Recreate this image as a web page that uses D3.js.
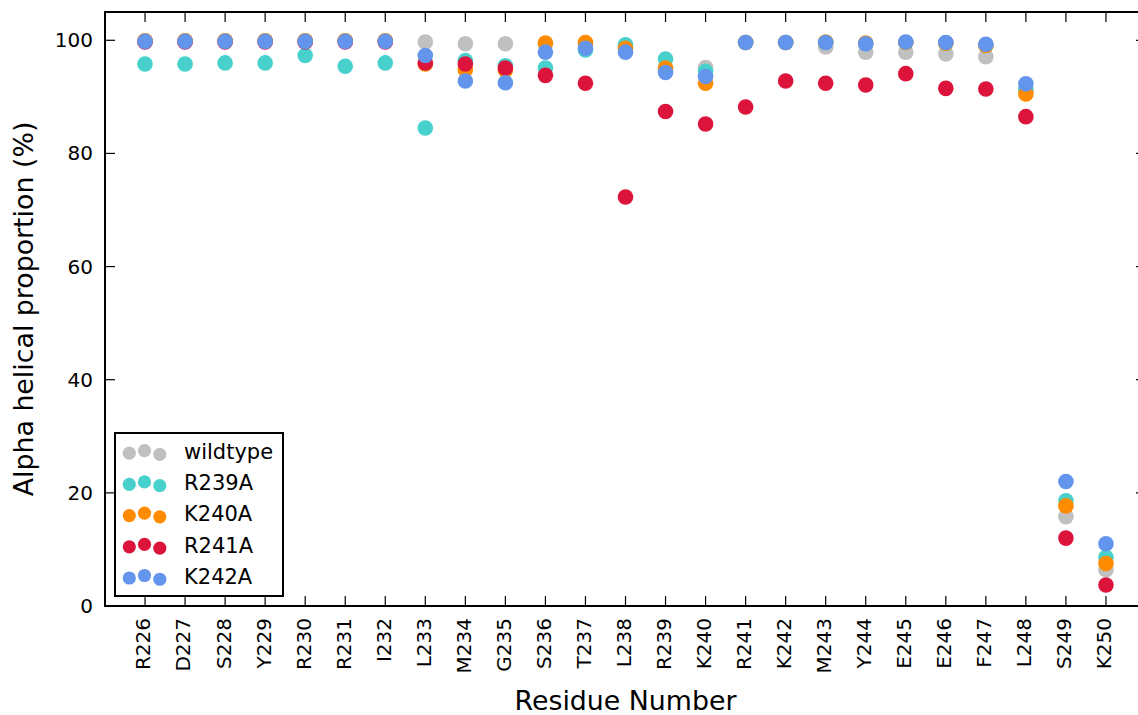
<!DOCTYPE html>
<html>
<head>
<meta charset="utf-8">
<script src="https://cdn.jsdelivr.net/npm/d3@7"></script>
<style>
  html, body { margin: 0; padding: 0; background: #fff; }
  svg { display: block; font-family: "DejaVu Sans", sans-serif; }
</style>
</head>
<body>
<svg id="chart" width="1138" height="715"></svg>
<script>
// Residues along the helix
const residues = ["R226","D227","S228","Y229","R230","R231","I232","L233","M234","G235",
  "S236","T237","L238","R239","K240","R241","K242","M243","Y244","E245",
  "E246","F247","L248","S249","K250"];

// Alpha helical proportion (%) per residue for each construct
const wildtype = [99.9,99.9,99.9,99.9,99.9,99.9,99.9,99.7,99.4,99.4,99.4,99.3,99.0,95.0,95.2,99.6,99.6,98.8,97.9,97.9,97.6,97.1,91.0,15.8,6.4];
const r239a    = [95.8,95.8,96.0,96.0,97.3,95.4,96.0,84.5,96.4,95.5,95.1,98.3,99.2,96.7,94.5,99.6,99.6,99.6,99.4,99.6,99.5,99.1,91.3,18.6,8.6];
const k240a    = [99.9,99.9,99.9,99.9,99.9,99.9,99.9,95.8,94.8,94.7,99.5,99.6,98.6,95.1,92.4,99.6,99.6,99.7,99.5,99.6,99.5,99.1,90.5,17.7,7.5];
const r241a    = [99.7,99.7,99.7,99.7,99.7,99.7,99.7,96.0,95.8,95.1,93.8,92.4,72.3,87.4,85.2,88.2,92.8,92.4,92.1,94.1,91.5,91.4,86.5,12.0,3.7];
const k242a    = [99.8,99.8,99.8,99.8,99.8,99.8,99.8,97.3,92.8,92.5,97.9,98.6,97.9,94.3,93.6,99.6,99.6,99.6,99.4,99.7,99.6,99.3,92.3,22.0,11.0];

const seriesNames  = ["wildtype","R239A","K240A","R241A","K242A"];
const seriesValues = [wildtype, r239a, k240a, r241a, k242a];
const seriesColors = ["#c0c0c0","#48d1cc","#ff8c00","#dc143c","#6495ed"];

const yTicks = [0,20,40,60,80,100];
const legendYOffsets = [0.375, 0.5, 0.3125];

const svg = d3.select("#chart");
const W = 1138, H = 715;
const plot = { left: 105, right: 1146, top: 12, bottom: 606 };

const x = d3.scaleLinear().domain([-1, 25]).range([plot.left, plot.right]);
const y = d3.scaleLinear().domain([0, 105]).range([plot.bottom, plot.top]);

svg.append("rect").attr("width", W).attr("height", H).attr("fill", "#fff");

// Scatter points, one layer per construct (later series drawn on top)
seriesValues.forEach((vals, si) => {
  svg.append("g")
    .selectAll("circle")
    .data(vals)
    .join("circle")
    .attr("cx", (d, i) => x(i))
    .attr("cy", d => y(d))
    .attr("r", 7.8)
    .attr("fill", seriesColors[si]);
});

// Ticks pointing inward on all four sides
const tickLen = 10;
const ticks = svg.append("g").attr("stroke", "#000").attr("stroke-width", 1.2);
residues.forEach((r, i) => {
  ticks.append("line").attr("x1", x(i)).attr("x2", x(i)).attr("y1", plot.bottom).attr("y2", plot.bottom - tickLen);
  ticks.append("line").attr("x1", x(i)).attr("x2", x(i)).attr("y1", plot.top).attr("y2", plot.top + tickLen);
});
yTicks.forEach(t => {
  ticks.append("line").attr("x1", plot.left).attr("x2", plot.left + tickLen).attr("y1", y(t)).attr("y2", y(t));
  ticks.append("line").attr("x1", plot.right).attr("x2", plot.right - tickLen).attr("y1", y(t)).attr("y2", y(t));
});

// Frame
svg.append("rect")
  .attr("x", plot.left).attr("y", plot.top)
  .attr("width", plot.right - plot.left).attr("height", plot.bottom - plot.top)
  .attr("fill", "none").attr("stroke", "#000").attr("stroke-width", 2);

// Y tick labels
svg.append("g").selectAll("text").data(yTicks).join("text")
  .attr("x", 93).attr("y", d => y(d))
  .attr("text-anchor", "end").attr("dominant-baseline", "central")
  .attr("font-size", 20).attr("fill", "#000")
  .text(d => d);

// X tick labels, rotated
svg.append("g").selectAll("text").data(residues).join("text")
  .attr("transform", (d, i) => `translate(${x(i)},618) rotate(-90)`)
  .attr("text-anchor", "end").attr("dy", "0.27em")
  .attr("font-size", 20).attr("fill", "#000")
  .text(d => d);

// Axis titles
svg.append("text")
  .attr("x", (plot.left + plot.right) / 2).attr("y", 710)
  .attr("text-anchor", "middle").attr("font-size", 26.8).attr("fill", "#000")
  .text("Residue Number");
svg.append("text")
  .attr("transform", `translate(33,${(plot.top + plot.bottom) / 2}) rotate(-90)`)
  .attr("text-anchor", "middle").attr("font-size", 26.8).attr("fill", "#000")
  .text("Alpha helical proportion (%)");

// Legend
const legend = svg.append("g");
legend.append("rect")
  .attr("x", 115).attr("y", 433).attr("width", 168).attr("height", 163)
  .attr("fill", "#fff").attr("stroke", "#000").attr("stroke-width", 2);
const rowY0 = 452, rowStep = 31.2, handleH = 20, handleXs = [129.3, 144.5, 159.8];
seriesNames.forEach((name, si) => {
  const cy = rowY0 + si * rowStep;
  legendYOffsets.forEach((off, k) => {
    legend.append("circle")
      .attr("cx", handleXs[k])
      .attr("cy", cy - 1.3 + (0.5 - off) * handleH)
      .attr("r", 6.6)
      .attr("fill", seriesColors[si]);
  });
  legend.append("text")
    .attr("x", 184).attr("y", cy)
    .attr("dominant-baseline", "central")
    .attr("font-size", 21).attr("fill", "#000")
    .text(name);
});
</script>
</body>
</html>
